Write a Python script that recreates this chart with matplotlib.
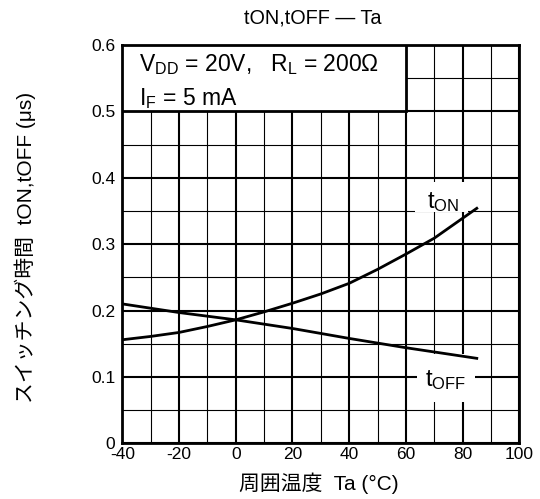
import matplotlib
matplotlib.use("Agg")
import matplotlib.pyplot as plt
from matplotlib.patches import Rectangle

plt.rcParams['font.family'] = ['Liberation Sans', 'Noto Sans CJK JP', 'DejaVu Sans']
plt.rcParams['mathtext.fontset'] = 'custom'
plt.rcParams['mathtext.rm'] = 'Liberation Sans'
plt.rcParams['mathtext.it'] = 'Liberation Sans'
plt.rcParams['axes.unicode_minus'] = False

# data
ta_on = [-40, -30, -20, -10, 0, 10, 20, 30, 40, 50, 60, 70, 80, 85]
t_on = [0.156, 0.161, 0.167, 0.176, 0.186, 0.198, 0.211, 0.225, 0.241,
        0.262, 0.285, 0.309, 0.339, 0.354]
ta_off = [-40, -20, 0, 20, 40, 60, 85]
t_off = [0.210, 0.197, 0.186, 0.173, 0.158, 0.144, 0.128]

x_ticks = [-40, -20, 0, 20, 40, 60, 80, 100]
y_ticks = [0, 0.1, 0.2, 0.3, 0.4, 0.5, 0.6]
y_ticklabels = ['0', '0.1', '0.2', '0.3', '0.4', '0.5', '0.6']

fig = plt.figure(figsize=(5.4, 4.99), dpi=100)
ax = fig.add_axes([0.2265, 0.1116, 0.7352, 0.7982])

ax.set_xlim(-40, 100)
ax.set_ylim(0, 0.6)
ax.set_xticks(x_ticks)
ax.set_yticks(y_ticks)
ax.set_yticklabels(y_ticklabels)
ax.tick_params(length=0, labelsize=12.5)
ax.tick_params(axis='x', pad=3)
ax.tick_params(axis='y', pad=5)

# grid: heavy lines on major, light on minor
for x in range(-40, 101, 10):
    ax.axvline(x, color='black', lw=1.5 if x % 20 == 0 else 0.8, zorder=1)
for i in range(13):
    y = i * 0.05
    ax.axhline(y, color='black', lw=1.5 if i % 2 == 0 else 0.8, zorder=1)

for s in ax.spines.values():
    s.set_linewidth(2)

ax.plot(ta_on, t_on, color='black', lw=2, zorder=3)
ax.plot(ta_off, t_off, color='black', lw=2, zorder=3)

# conditions box
ax.add_patch(Rectangle((-40, 0.5), 100, 0.1, facecolor='white', edgecolor='black', lw=2, zorder=4))
ax.text(-34, 0.571, r'V$_{\mathrm{DD}}$ = 20V,   R$_{\mathrm{L}}$ = 200Ω', fontsize=16.5, va='center', zorder=5)
ax.text(-34, 0.520, r'I$_{\mathrm{F}}$ = 5 mA', fontsize=16.5, va='center', zorder=5)

# white patches behind the curve labels
ax.add_patch(Rectangle((63.2, 0.348), 18.8, 0.046, facecolor='white', edgecolor='none', zorder=2))
ax.add_patch(Rectangle((63.8, 0.0627), 20.6, 0.072, facecolor='white', edgecolor='none', zorder=2))
ax.text(73.2, 0.364, r't$_{\mathrm{ON}}$', fontsize=17, ha='center', va='center', zorder=5)
ax.text(74.1, 0.095, r't$_{\mathrm{OFF}}$', fontsize=17, ha='center', va='center', zorder=5)

fig.text(313 / 540, 1 - 18 / 499, 'tON,tOFF — Ta', fontsize=14.3, ha='center', va='center')
fig.text(319 / 540, 1 - 483 / 499, '周囲温度  Ta (°C)', fontsize=15, ha='center', va='center')
fig.text(25 / 540, 1 - 247 / 499, 'スイッチング時間  tON,tOFF (μs)', fontsize=15,
         ha='center', va='center', rotation=90)

fig.savefig('out.png', dpi=100)
